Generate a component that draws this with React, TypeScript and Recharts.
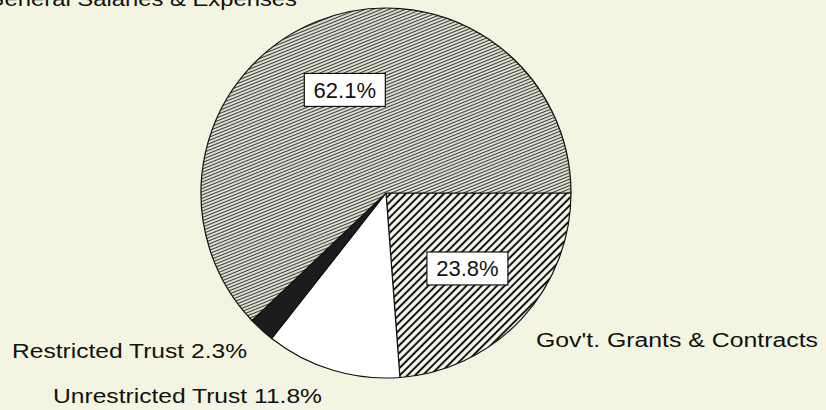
import React from "react";
import { PieChart, Pie, Cell } from "recharts";

const categories = [
  "Gov't. Grants & Contracts",
  "Unrestricted Trust",
  "Restricted Trust",
  "General Salaries & Expenses",
];
const shares = [23.8, 11.8, 2.3, 62.1];
const fills = ["url(#hatchGov)", "#ffffff", "#1c1c1c", "url(#hatchSal)"];
const boxedIndices = [0, 3];

const data = categories.map((name, i) => ({ name, value: shares[i] }));

const BG = "#f4f4e2";
const FONT = "'Liberation Sans', Arial, sans-serif";
const RAD = Math.PI / 180;

const renderLabel = (props: any) => {
  const { cx, cy, midAngle, outerRadius, index, value } = props;
  if (!boxedIndices.includes(index)) return null;
  const r = outerRadius * 0.6;
  const x = cx + r * Math.cos(-midAngle * RAD);
  const y = cy + r * Math.sin(-midAngle * RAD);
  const w = 81;
  const h = 33;
  return (
    <g key={`lbl-${index}`}>
      <rect x={x - w / 2} y={y - h / 2} width={w} height={h} fill="#ffffff" stroke="#111" strokeWidth={1.2} />
      <text x={x} y={y + 8} textAnchor="middle" fontFamily={FONT} fontSize={22} fill="#111">
        {`${Number(value).toFixed(1)}%`}
      </text>
    </g>
  );
};

export default function App() {
  return (
    <div style={{ position: "fixed", left: 0, top: 0, width: 826, height: 410, background: BG, overflow: "hidden" }}>
      <svg width={0} height={0} style={{ position: "absolute" }}>
        <defs>
          <pattern id="hatchSal" patternUnits="userSpaceOnUse" width={6} height={3} patternTransform="rotate(-22)">
            <rect width={6} height={3} fill="#e6e6d6" />
            <line x1={0} y1={1.5} x2={6} y2={1.5} stroke="#3a3a3a" strokeWidth={1.1} />
          </pattern>
          <pattern id="hatchGov" patternUnits="userSpaceOnUse" width={8} height={5.4} patternTransform="rotate(-45)">
            <rect width={8} height={5.4} fill="#f8f8ee" />
            <line x1={0} y1={2.7} x2={8} y2={2.7} stroke="#111" strokeWidth={2} />
          </pattern>
        </defs>
      </svg>
      <PieChart width={826} height={410} margin={{ top: 0, right: 0, bottom: 0, left: 0 }}>
        <Pie
          data={data}
          dataKey="value"
          nameKey="name"
          cx={386}
          cy={193}
          outerRadius={185}
          startAngle={0}
          endAngle={-360}
          stroke="#111"
          strokeWidth={1.2}
          label={renderLabel}
          labelLine={false}
          isAnimationActive={false}
        >
          {data.map((d, i) => (
            <Cell key={d.name} fill={fills[i]} />
          ))}
        </Pie>
      </PieChart>
      <svg width={826} height={410} style={{ position: "absolute", left: 0, top: 0, pointerEvents: "none" }}>
        <g fontFamily={FONT} fontSize={20} fill="#111">
          <text x={-14} y={6} textLength={311} lengthAdjust="spacingAndGlyphs">{categories[3]}</text>
          <text x={12} y={358} textLength={235} lengthAdjust="spacingAndGlyphs">{`${categories[2]} ${shares[2]}%`}</text>
          <text x={53} y={403} textLength={269} lengthAdjust="spacingAndGlyphs">{`${categories[1]} ${shares[1]}%`}</text>
          <text x={536} y={347} textLength={282} lengthAdjust="spacingAndGlyphs">{categories[0]}</text>
        </g>
      </svg>
    </div>
  );
}
